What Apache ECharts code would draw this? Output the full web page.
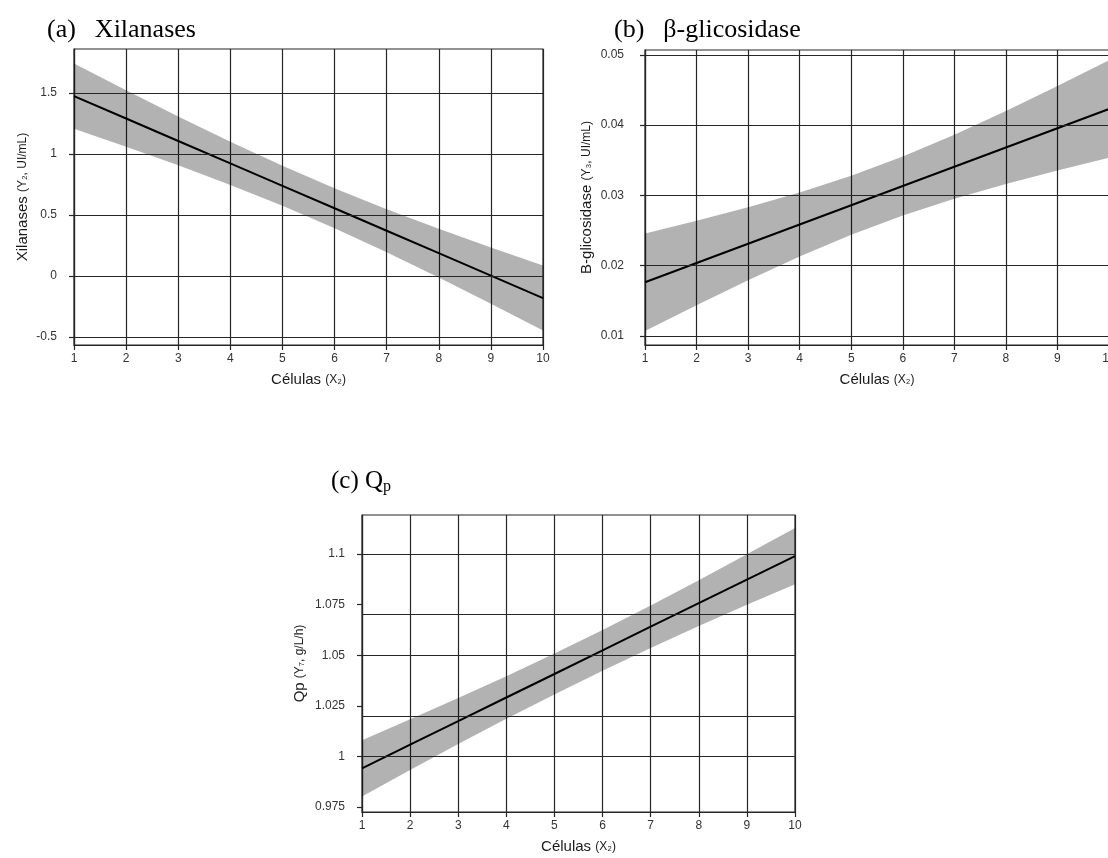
<!DOCTYPE html>
<html>
<head>
<meta charset="utf-8">
<script src="https://cdn.jsdelivr.net/npm/echarts@6/dist/echarts.min.js"></script>
<style>
html,body{margin:0;padding:0;background:#fff;}
#c{width:1108px;height:858px;}
</style>
</head>
<body>
<div id="c"></div>
<script>
// ---- data ----
const xVals = [1, 2, 3, 4, 5, 6, 7, 8, 9, 10];

// (a) Xilanases
const aFit = [1.475, 1.291, 1.107, 0.923, 0.739, 0.555, 0.371, 0.187, 0.003, -0.181];
const aLow = [1.208, 1.060, 0.907, 0.746, 0.575, 0.391, 0.194, -0.013, -0.228, -0.448];
const aUp  = [1.742, 1.522, 1.307, 1.100, 0.903, 0.719, 0.548, 0.387, 0.234, 0.086];
const aTicks = [-0.5, 0, 0.5, 1, 1.5];

// (b) beta-glicosidase
const bFit = [0.01764, 0.02038, 0.02312, 0.02586, 0.0286, 0.03134, 0.03408, 0.03682, 0.03956, 0.0423];
const bLow = [0.01069, 0.01437, 0.01793, 0.0213, 0.02439, 0.02713, 0.02952, 0.03163, 0.03355, 0.03535];
const bUp  = [0.02459, 0.02639, 0.02831, 0.03042, 0.03281, 0.03555, 0.03864, 0.04201, 0.04557, 0.04925];
const bTicks = [0.01, 0.02, 0.03, 0.04, 0.05];

// (c) Qp
const cFit = [0.9941, 1.0058, 1.0174, 1.0291, 1.0407, 1.0524, 1.0641, 1.0757, 1.0874, 1.0990];
const cLow = [0.9802, 0.9933, 1.0061, 1.0186, 1.0306, 1.0423, 1.0536, 1.0644, 1.0749, 1.0851];
const cUp  = [1.0080, 1.0183, 1.0288, 1.0396, 1.0508, 1.0625, 1.0746, 1.0871, 1.0999, 1.1129];
const cTicks = [0.975, 1, 1.025, 1.05, 1.075, 1.1];

// ---- chart ----
const SANS = 'Liberation Sans, Arial, sans-serif';
const SERIF = 'Liberation Serif, Times New Roman, serif';
const LINE = '#262626';
const BAND = 'rgba(0,0,0,0.3)';

const panels = [
  {fit: aFit, low: aLow, up: aUp, ticks: aTicks, min: -0.566, max: 1.861,
   grid: {left: 74, top: 49, width: 469, height: 296}, lblMargin: 17,
   yname: '{m|Xilanases }{s|(Y₂, UI/mL)}', ygap: 44},
  {fit: bFit, low: bLow, up: bUp, ticks: bTicks, min: 0.0087, max: 0.0507,
   grid: {left: 645, top: 50, width: 464, height: 295}, lblMargin: 21,
   yname: '{m|B-glicosidase }{s|(Y₃, UI/mL)}', ygap: 51},
  {fit: cFit, low: cLow, up: cUp, ticks: cTicks, min: 0.9725, max: 1.1193,
   grid: {left: 362, top: 515, width: 433, height: 297}, lblMargin: 17,
   yname: '{m|Qp }{s|(Y₇, g/L/h)}', ygap: 55}
];

const nameRich = {
  m: {fontFamily: SANS, fontSize: 15, color: '#1a1a1a'},
  s: {fontFamily: SANS, fontSize: 12, color: '#1a1a1a'}
};

const grids = [], xAxes = [], yAxes = [], series = [];
panels.forEach((p, i) => {
  grids.push(Object.assign({show: true, borderColor: LINE, borderWidth: 1.2, backgroundColor: 'transparent',
    outerBoundsMode: 'none', containLabel: false}, p.grid));
  xAxes.push({
    type: 'value', gridIndex: i, min: 1, max: 10, interval: 1,
    name: '{m|Células }{s|(X₂)}', nameLocation: 'middle', nameGap: 27,
    nameTextStyle: {rich: nameRich},
    axisLine: {show: true, onZero: false, lineStyle: {color: LINE, width: 1.2}},
    axisTick: {show: true, length: 5, lineStyle: {color: LINE, width: 1.2}},
    axisLabel: {color: '#333', fontFamily: SANS, fontSize: 12, margin: 8},
    splitLine: {show: true, lineStyle: {color: LINE, width: 1.2}}
  });
  yAxes.push({
    type: 'value', gridIndex: i, min: p.min, max: p.max,
    name: p.yname, nameLocation: 'middle', nameGap: p.ygap,
    nameTextStyle: {rich: nameRich},
    axisLine: {show: true, onZero: false, lineStyle: {color: LINE, width: 1.2}},
    axisTick: {show: true, length: 5, customValues: p.ticks, lineStyle: {color: LINE, width: 1.2}},
    axisLabel: {color: '#333', fontFamily: SANS, fontSize: 12, margin: p.lblMargin, customValues: p.ticks},
    splitLine: {show: false}
  });
  // confidence band as one polygon through the axis scales
  series.push({
    type: 'custom', xAxisIndex: i, yAxisIndex: i, silent: true, z: 2,
    data: xVals.map((x, k) => [x, p.low[k], p.up[k]]),
    encode: {x: 0, y: [1, 2]},
    renderItem: function (params, api) {
      if (params.dataIndex !== 0) return null;
      const pts = [];
      for (let k = 0; k < xVals.length; k++) pts.push(api.coord([xVals[k], p.low[k]]));
      for (let k = xVals.length - 1; k >= 0; k--) pts.push(api.coord([xVals[k], p.up[k]]));
      return {type: 'polygon', shape: {points: pts}, style: {fill: BAND}};
    }
  });
  series.push({
    type: 'line', xAxisIndex: i, yAxisIndex: i, symbol: 'none', silent: true,
    lineStyle: {color: '#000', width: 2}, data: xVals.map((x, k) => [x, p.fit[k]]), z: 4,
    markLine: {
      silent: true, symbol: ['none', 'none'], label: {show: false}, animation: false,
      lineStyle: {color: LINE, width: 1.2, type: 'solid'},
      data: p.ticks.map(v => ({yAxis: v}))
    }
  });
});

const titleRich = {
  n: {fontFamily: SERIF, fontSize: 26, color: '#000', padding: [0, 19, 0, 0]},
  t: {fontFamily: SERIF, fontSize: 26, color: '#000'},
  c: {fontFamily: SERIF, fontSize: 25, color: '#000'},
  sub: {fontFamily: SERIF, fontSize: 16, color: '#000', padding: [12, 0, 0, 0]}
};
const titleStyle = {fontFamily: SERIF, fontSize: 26, fontWeight: 'normal', color: '#000', rich: titleRich};
const option = {
  animation: false,
  backgroundColor: '#fff',
  title: [
    {text: '{n|(a)}{t|Xilanases}', left: 42, top: 12, textStyle: titleStyle},
    {text: '{n|(b)}{t|β-glicosidase}', left: 609, top: 12, textStyle: titleStyle},
    {text: '{c|(c) Q}{sub|p}', left: 326, top: 462, textStyle: titleStyle}
  ],
  grid: grids, xAxis: xAxes, yAxis: yAxes, series: series
};
const chart = echarts.init(document.getElementById('c'), null, {renderer: 'canvas'});
chart.setOption(option);
</script>
</body>
</html>
